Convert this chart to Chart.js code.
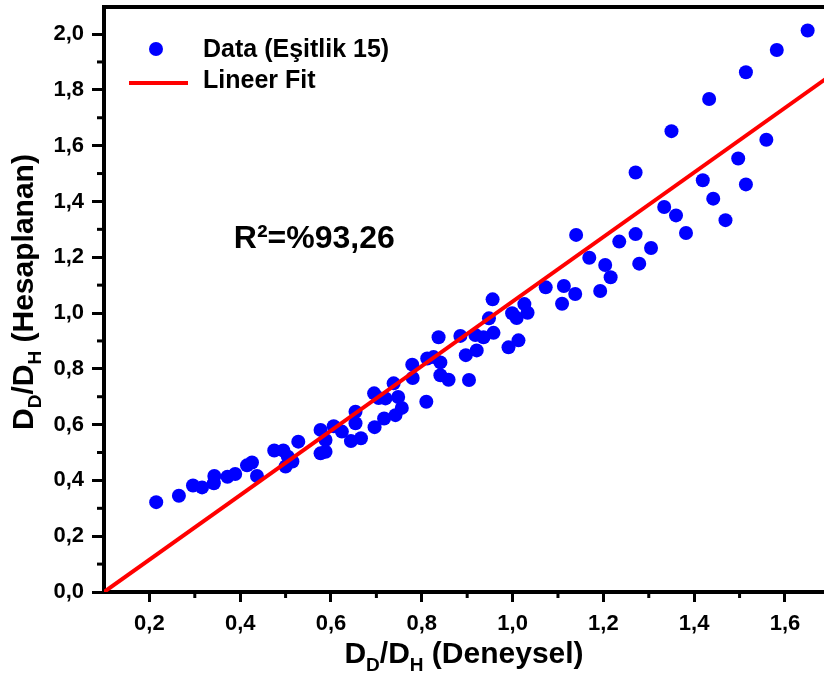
<!DOCTYPE html>
<html><head><meta charset="utf-8">
<script src="https://cdn.jsdelivr.net/npm/chart.js@4/dist/chart.umd.min.js"></script>
<style>html,body{margin:0;padding:0;background:#fff;overflow:hidden}#wrap{width:824px;height:675px;position:relative}</style>
</head><body><div id="wrap"><canvas id="c" width="824" height="675"></canvas></div>
<script>
// ---- data ----
const xValues = [0.215,0.265,0.296,0.316,0.342,0.343,0.372,0.389,0.415,0.426,0.437,0.475,0.495,0.505,0.500,0.515,0.528,
  0.577,0.588,0.577,0.588,0.606,0.624,0.644,0.666,0.654,0.654,0.696,0.717,0.742,0.756,0.748,0.695,0.705,0.720,0.738,
  0.779,0.780,0.812,0.826,0.841,0.837,0.841,0.859,0.904,0.810,0.885,0.897,0.921,0.918,0.936,0.958,0.948,0.991,1.013,
  0.999,1.009,0.956,1.026,1.033,1.073,1.113,1.138,1.109,1.193,1.216,1.204,1.169,1.140,1.235,1.271,1.279,1.305,1.271,
  1.334,1.360,1.382,1.350,1.419,1.442,1.469,1.514,1.497,1.559,1.433,1.514,1.582,1.650];
const yValues = [0.322,0.345,0.382,0.375,0.390,0.416,0.413,0.423,0.454,0.464,0.416,0.507,0.507,0.485,0.450,0.468,0.539,
  0.581,0.545,0.497,0.503,0.594,0.575,0.541,0.551,0.646,0.605,0.591,0.622,0.634,0.660,0.699,0.712,0.695,0.694,0.748,
  0.815,0.767,0.837,0.842,0.823,0.913,0.777,0.761,0.760,0.682,0.918,0.849,0.866,0.921,0.913,0.929,0.981,0.877,0.902,
  0.999,0.982,1.049,1.032,1.001,1.092,1.097,1.068,1.033,1.079,1.128,1.172,1.198,1.280,1.256,1.283,1.177,1.233,1.504,
  1.380,1.350,1.287,1.652,1.476,1.410,1.333,1.461,1.554,1.621,1.767,1.863,1.943,2.013];
const fitX = [0.1, 1.7];
const fitY = [0.0, 1.851];
const xTickValues = [0.1,0.2,0.3,0.4,0.5,0.6,0.7,0.8,0.9,1.0,1.1,1.2,1.3,1.4,1.5,1.6];
const yTickValues = [0.0,0.1,0.2,0.3,0.4,0.5,0.6,0.7,0.8,0.9,1.0,1.1,1.2,1.3,1.4,1.5,1.6,1.7,1.8,1.9,2.0];
const seriesLabels = ['Data (Eşitlik 15)', 'Lineer Fit'];
const xTitleParts = [['D',0],['D',1],['/D',0],['H',1],[' (Deneysel)',0]];
const yTitleParts = [['D',0],['D',1],['/D',0],['H',1],[' (Hesaplanan)',0]];
const annotationText = 'R²=%93,26';

// ---- chart ----
const FONT = "'Liberation Sans', Arial, sans-serif";
const isMajor = v => Math.round(v * 10) % 2 === 0;
const fmt = v => isMajor(v) ? v.toFixed(1).replace('.', ',') : '';

function drawParts(ctx, parts, size, subSize, subDy) {
  let w = 0;
  for (const [t, sub] of parts) {
    ctx.font = 'bold ' + (sub ? subSize : size) + 'px ' + FONT;
    w += ctx.measureText(t).width;
  }
  let x = -w / 2;
  for (const [t, sub] of parts) {
    ctx.font = 'bold ' + (sub ? subSize : size) + 'px ' + FONT;
    ctx.fillText(t, x, sub ? subDy : 0);
    x += ctx.measureText(t).width;
  }
}

const decor = {
  id: 'decor',
  afterDraw(chart) {
    const ctx = chart.ctx, a = chart.chartArea;
    const xs = chart.scales.x, ys = chart.scales.y;
    ctx.save();
    // top frame line
    ctx.strokeStyle = '#000'; ctx.lineWidth = 4;
    ctx.beginPath(); ctx.moveTo(a.left - 2, a.top); ctx.lineTo(a.right, a.top); ctx.stroke();
    // minor ticks
    ctx.lineWidth = 3;
    xTickValues.forEach(v => { if (!isMajor(v) && v > xs.min) { const p = xs.getPixelForValue(v);
      ctx.beginPath(); ctx.moveTo(p, a.bottom); ctx.lineTo(p, a.bottom + 6); ctx.stroke(); } });
    yTickValues.forEach(v => { if (!isMajor(v)) { const p = ys.getPixelForValue(v);
      ctx.beginPath(); ctx.moveTo(a.left, p); ctx.lineTo(a.left - 7, p); ctx.stroke(); } });
    // legend
    const ds = chart.data.datasets;
    ctx.fillStyle = ds[1].backgroundColor;
    ctx.beginPath(); ctx.arc(a.left + 52, a.top + 42, 7, 0, Math.PI * 2); ctx.fill();
    ctx.strokeStyle = ds[0].borderColor; ctx.lineWidth = 4;
    ctx.beginPath(); ctx.moveTo(a.left + 25, a.top + 76); ctx.lineTo(a.left + 84, a.top + 76); ctx.stroke();
    ctx.fillStyle = '#000'; ctx.font = 'bold 25px ' + FONT; ctx.textBaseline = 'middle'; ctx.textAlign = 'left';
    ctx.fillText(ds[1].label, a.left + 99, a.top + 43);
    ctx.fillText(ds[0].label, a.left + 99, a.top + 74);
    // annotation
    ctx.font = 'bold 32px ' + FONT; ctx.textBaseline = 'alphabetic';
    ctx.fillText(annotationText, xs.getPixelForValue(0.386), ys.getPixelForValue(1.233));
    // axis titles
    ctx.textAlign = 'left'; ctx.textBaseline = 'alphabetic';
    ctx.save(); ctx.translate((a.left + a.right) / 2, 663);
    drawParts(ctx, xTitleParts, 30, 19, 8); ctx.restore();
    ctx.save(); ctx.translate(33, 292); ctx.rotate(-Math.PI / 2);
    drawParts(ctx, yTitleParts, 30, 19, 8); ctx.restore();
    ctx.restore();
  }
};

new Chart(document.getElementById('c'), {
  type: 'scatter',
  data: {
    datasets: [
      { type: 'line', label: seriesLabels[1], data: fitX.map((x, i) => ({ x, y: fitY[i] })),
        borderColor: '#ff0000', borderWidth: 4, pointRadius: 0, fill: false, order: 0 },
      { label: seriesLabels[0], data: xValues.map((x, i) => ({ x, y: yValues[i] })),
        backgroundColor: '#0000ff', borderWidth: 0, pointRadius: 7, pointHoverRadius: 7, order: 1 }
    ]
  },
  options: {
    responsive: false, animation: false, devicePixelRatio: 1,
    layout: { autoPadding: false, padding: { top: 7, right: 0, left: 0, bottom: 0 } },
    plugins: { legend: { display: false }, tooltip: { enabled: false } },
    scales: {
      x: {
        type: 'linear', min: 0.1, max: 1.686,
        afterBuildTicks: s => { s.ticks = xTickValues.map(v => ({ value: v })); },
        afterFit: s => { s.height = 83; s.paddingLeft = 0; s.paddingRight = 0; s.paddingTop = 0; s.paddingBottom = 0; },
        ticks: { callback: v => fmt(v), color: '#000', font: { family: FONT, size: 22, weight: 'bold' },
          padding: 9, maxRotation: 0, autoSkip: false },
        grid: { drawOnChartArea: false, tickLength: 10, tickWidth: 3,
          tickColor: c => (c.tick && isMajor(c.tick.value) ? '#000' : 'rgba(0,0,0,0)') },
        border: { color: '#000', width: 4 }
      },
      y: {
        type: 'linear', min: 0, max: 2.097,
        afterBuildTicks: s => { s.ticks = yTickValues.map(v => ({ value: v })); },
        afterFit: s => { s.width = 104; s.paddingLeft = 0; s.paddingRight = 0; s.paddingTop = 0; s.paddingBottom = 0; },
        ticks: { callback: v => fmt(v), color: '#000', font: { family: FONT, size: 22, weight: 'bold' },
          padding: 8, autoSkip: false },
        grid: { drawOnChartArea: false, tickLength: 12, tickWidth: 3,
          tickColor: c => (c.tick && isMajor(c.tick.value) ? '#000' : 'rgba(0,0,0,0)') },
        border: { color: '#000', width: 4 }
      }
    }
  },
  plugins: [decor]
});
</script></body></html>
